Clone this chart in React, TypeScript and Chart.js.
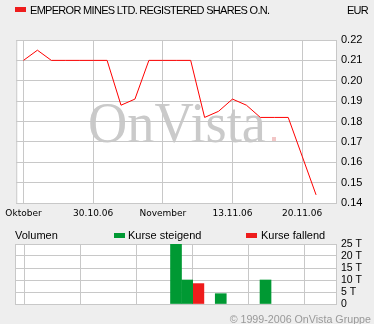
import React, { useEffect, useRef } from 'react';
import { Chart, registerables } from 'chart.js';

Chart.register(...registerables);

const titleText = 'EMPEROR MINES LTD. REGISTERED SHARES O.N.';
const currencyText = 'EUR';
const xTickPositions = [0, 5, 10, 15, 20];
const xTickLabels = ['Oktober', '30.10.06', 'November', '13.11.06', '20.11.06'];
const priceTickValues = [0.14, 0.15, 0.16, 0.17, 0.18, 0.19, 0.2, 0.21, 0.22];
const priceValues = [
  0.21, 0.215, 0.21, 0.21, 0.21, 0.21, 0.21, 0.188, 0.191, 0.21, 0.21,
  0.21, 0.21, 0.182, 0.185, 0.191, 0.188, 0.182, 0.182, 0.182, 0.163, 0.144,
];
const volumeTickValues = [0, 5, 10, 15, 20, 25];
const risingDays = [11, 12, 15, 19];
const risingVolumes = [25, 10, 4.3, 10];
const fallingDays = [13];
const fallingVolumes = [8.5];

const GRID = '#c8c8c8';
const RED = '#ee1c1c';
const GREEN = '#009933';
const SANS = '"Liberation Sans", Arial, sans-serif';

const framePlugin = (watermark: boolean) => ({
  id: 'frame' + (watermark ? 'W' : ''),
  beforeDraw(chart: any) {
    const { ctx, chartArea } = chart;
    const { left, top, right, bottom } = chartArea;
    ctx.save();
    ctx.fillStyle = '#ffffff';
    ctx.fillRect(left, top, right - left, bottom - top);
    if (watermark) {
      ctx.beginPath();
      ctx.rect(left, top, right - left, bottom - top);
      ctx.clip();
      ctx.font = '58px "Liberation Serif", "Times New Roman", serif';
      ctx.fillStyle = '#cacaca';
      ctx.textBaseline = 'alphabetic';
      const w = ctx.measureText('OnVista').width;
      const target = 178;
      ctx.save();
      ctx.translate(88, 142);
      ctx.scale(target / w, 1);
      ctx.fillText('OnVista', 0, 0);
      ctx.restore();
      ctx.fillStyle = '#f2c6c6';
      ctx.fillRect(272, 137, 4, 4);
    }
    ctx.restore();
  },
  beforeDatasetsDraw(chart: any) {
    const { ctx, chartArea } = chart;
    const { left, top, right, bottom } = chartArea;
    ctx.save();
    ctx.strokeStyle = GRID;
    ctx.lineWidth = 1;
    ctx.strokeRect(left + 0.5, top + 0.5, right - left, bottom - top);
    ctx.restore();
  },
});

const xScale = (showLabels: boolean, height: number) => ({
  type: 'linear' as const,
  min: -0.52,
  max: 22.43,
  afterBuildTicks: (scale: any) => {
    scale.ticks = xTickPositions.map((v) => ({ value: v }));
  },
  afterFit: (scale: any) => {
    scale.height = height;
  },
  grid: { color: GRID, lineWidth: 1, drawTicks: false },
  border: { display: false },
  ticks: {
    display: showLabels,
    autoSkip: false,
    maxRotation: 0,
    padding: 5,
    color: '#000',
    font: { family: '"DejaVu Sans", Verdana, sans-serif', size: 9 },
    callback: (_v: any, i: number) => xTickLabels[i],
  },
});

export default function App() {
  const mainRef = useRef<HTMLCanvasElement>(null);
  const volRef = useRef<HTMLCanvasElement>(null);

  useEffect(() => {
    const main = new Chart(mainRef.current!, {
      type: 'line',
      data: {
        datasets: [
          {
            data: priceValues.map((v, i) => ({ x: i, y: v })),
            borderColor: '#ff0000',
            borderWidth: 1,
            pointRadius: 0,
            tension: 0,
            fill: false,
          },
        ],
      },
      options: {
        responsive: false,
        animation: false,
        devicePixelRatio: 1,
        layout: { padding: { left: 15, top: 40, right: 0, bottom: 0 } },
        plugins: { legend: { display: false }, tooltip: { enabled: false } },
        scales: {
          x: xScale(true, 23),
          y: {
            type: 'linear',
            position: 'right',
            min: 0.14,
            max: 0.22,
            afterBuildTicks: (scale: any) => {
              scale.ticks = priceTickValues.map((v) => ({ value: v }));
            },
            afterFit: (scale: any) => {
              scale.width = 38;
            },
            grid: { color: GRID, lineWidth: 1, drawTicks: false },
            border: { display: false },
            ticks: {
              autoSkip: false,
              padding: 5,
              color: '#000',
              font: { family: SANS, size: 11 },
              callback: (v: any) => Number(v).toFixed(2),
            },
          },
        },
      },
      plugins: [framePlugin(true)],
    } as any);

    const vol = new Chart(volRef.current!, {
      type: 'bar',
      data: {
        datasets: [
          {
            data: risingDays.map((d, i) => ({ x: d, y: risingVolumes[i] })),
            backgroundColor: GREEN,
            barThickness: 11,
            grouped: false,
          },
          {
            data: fallingDays.map((d, i) => ({ x: d, y: fallingVolumes[i] })),
            backgroundColor: RED,
            barThickness: 11,
            grouped: false,
          },
        ],
      },
      options: {
        responsive: false,
        animation: false,
        devicePixelRatio: 1,
        layout: { padding: { left: 15, top: 18, right: 0, bottom: 0 } },
        plugins: { legend: { display: false }, tooltip: { enabled: false } },
        scales: {
          x: xScale(false, 20),
          y: {
            type: 'linear',
            position: 'right',
            min: 0,
            max: 25,
            afterBuildTicks: (scale: any) => {
              scale.ticks = volumeTickValues.map((v) => ({ value: v }));
            },
            afterFit: (scale: any) => {
              scale.width = 38;
            },
            grid: { color: GRID, lineWidth: 1, drawTicks: false },
            border: { display: false },
            ticks: {
              autoSkip: false,
              padding: 5,
              color: '#000',
              font: { family: SANS, size: 10.5 },
              callback: (v: any) => (Number(v) === 0 ? '0' : `${v} T`),
            },
          },
        },
      },
      plugins: [framePlugin(false)],
    } as any);

    return () => {
      main.destroy();
      vol.destroy();
    };
  }, []);

  const text: React.CSSProperties = {
    position: 'absolute',
    fontFamily: SANS,
    fontSize: 11,
    lineHeight: '14px',
    color: '#000',
    whiteSpace: 'nowrap',
  };

  return (
    <div
      style={{
        position: 'absolute',
        left: 0,
        top: 0,
        width: 374,
        height: 324,
        background: '#eeeeee',
        overflow: 'hidden',
      }}
    >
      <canvas ref={mainRef} width={374} height={226} style={{ position: 'absolute', left: 0, top: 0 }} />
      <canvas ref={volRef} width={374} height={98} style={{ position: 'absolute', left: 0, top: 226 }} />
      <div style={{ position: 'absolute', left: 15, top: 7, width: 11, height: 5, background: RED }} />
      <div style={{ ...text, left: 30, top: 3, letterSpacing: '-0.7px' }}>{titleText}</div>
      <div style={{ ...text, right: 6, top: 3, letterSpacing: '-0.7px' }}>{currencyText}</div>
      <div style={{ ...text, left: 15, top: 228 }}>Volumen</div>
      <div style={{ position: 'absolute', left: 114, top: 233, width: 11, height: 5, background: GREEN }} />
      <div style={{ ...text, left: 128, top: 228 }}>Kurse steigend</div>
      <div style={{ position: 'absolute', left: 246, top: 233, width: 11, height: 5, background: RED }} />
      <div style={{ ...text, left: 261, top: 228 }}>Kurse fallend</div>
      <div style={{ ...text, right: 3, top: 312, fontSize: 10.7, color: '#999999' }}>© 1999-2006 OnVista Gruppe</div>
    </div>
  );
}
